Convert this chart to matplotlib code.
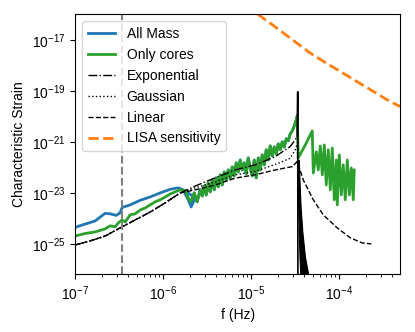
import numpy as np
import matplotlib
matplotlib.use('Agg')
import matplotlib.pyplot as plt
from matplotlib.ticker import NullLocator

plt.rcParams['font.family'] = ['Liberation Sans', 'DejaVu Sans']
plt.rcParams['mathtext.fontset'] = 'custom'
plt.rcParams['mathtext.rm'] = 'Liberation Sans'
plt.rcParams['mathtext.it'] = 'Liberation Sans:italic'
plt.rcParams['font.size'] = 10

# ---- data (log10 of frequency / strain) ----
# All Mass, low-frequency part (above cores)
allmass_lf = [-7.000, -6.886, -6.773, -6.659, -6.602, -6.534, -6.489, -6.466, -6.375,
              -6.261, -6.148, -6.034, -5.920, -5.830, -5.773, -5.716, -5.682, -5.636]
allmass_lh = [-24.35, -24.22, -24.10, -23.80, -23.82, -23.88, -23.78, -23.57, -23.47,
              -23.29, -23.16, -23.00, -22.86, -22.80, -22.88, -23.27, -23.55, -23.20]

# Only cores, low-frequency part
cores_lf = [-7.000, -6.886, -6.773, -6.659, -6.602, -6.545, -6.511, -6.466, -6.432, -6.375,
            -6.318, -6.261, -6.205, -6.148, -6.091, -6.034, -5.977, -5.920, -5.864, -5.807]
cores_lh = [-24.69, -24.59, -24.53, -24.41, -24.29, -24.33, -24.18, -24.06, -24.14, -23.86,
            -23.82, -23.67, -23.59, -23.47, -23.35, -23.27, -23.16, -23.04, -22.96, -22.88]

# noisy middle part, shared by both (All Mass hidden under cores)
mid_lf = [-5.750, -5.716, -5.682, -5.648, -5.614,
          -5.580, -5.557, -5.534, -5.511, -5.489, -5.466, -5.443, -5.420, -5.398, -5.375,
          -5.352, -5.330, -5.307, -5.284, -5.261, -5.239, -5.216, -5.193, -5.170, -5.148,
          -5.125, -5.102, -5.080, -5.057, -5.034, -5.011, -4.989, -4.966, -4.943, -4.920,
          -4.898, -4.875, -4.852, -4.830, -4.807, -4.784, -4.761, -4.739, -4.716, -4.693,
          -4.670, -4.648, -4.625, -4.602, -4.580, -4.557, -4.534, -4.511, -4.489, -4.477]
mid_lh = [-22.92, -23.20, -23.35, -23.00, -23.35,
          -22.88, -23.12, -22.73, -23.08, -22.61, -22.96, -22.49, -22.88, -22.41, -22.76,
          -22.29, -22.69, -22.18, -22.49, -22.10, -22.45, -21.98, -22.33, -21.82, -22.18,
          -21.71, -22.10, -21.82, -22.25, -21.63, -22.02, -22.33, -21.71, -22.41, -21.63,
          -22.10, -21.51, -21.90, -21.31, -21.71, -21.16, -21.55, -21.20, -21.47, -21.08,
          -21.31, -21.00, -21.20, -20.88, -20.96, -20.69, -20.57, -20.37, -20.14, -19.98]

# cores after the cutoff
tail_lf = [-4.466, -4.386, -4.307, -4.295, -4.261, -4.239, -4.216, -4.193, -4.170, -4.148,
           -4.125, -4.102, -4.080, -4.057, -4.034, -4.023, -4.000, -3.977, -3.955, -3.932,
           -3.909, -3.886, -3.864, -3.841, -3.830]
tail_lh = [-21.63, -21.12, -20.57, -22.22, -21.39, -22.10, -21.16, -22.29, -21.12, -22.69,
           -21.31, -22.88, -21.24, -23.27, -21.71, -23.47, -21.51, -23.08, -21.90, -23.27,
           -21.71, -23.08, -22.02, -23.27, -22.10]

# analytic models: common low-frequency part
model_lf = [-7.000, -6.830, -6.659, -6.489, -6.318, -6.148, -5.977, -5.807]
model_lh = [-25.04, -24.88, -24.69, -24.37, -24.06, -23.75, -23.39, -23.00]

expo_lf = [-5.636, -5.409, -5.182, -4.955, -4.727, -4.557, -4.500, -4.477]
expo_lh = [-22.73, -22.41, -22.10, -21.90, -21.58, -21.18, -20.92, -20.79]
gauss_lf = [-5.636, -5.409, -5.182, -4.955, -4.693, -4.557, -4.500, -4.477]
gauss_lh = [-22.80, -22.57, -22.29, -22.16, -21.84, -21.64, -21.31, -21.04]
linear_lf = [-5.636, -5.409, -5.182, -4.955, -4.727, -4.534, -4.477, -4.409, -4.352,
             -4.295, -4.182, -4.023, -3.875, -3.739, -3.636]
linear_lh = [-22.88, -22.69, -22.42, -22.29, -22.10, -21.97, -21.77, -22.49, -22.88,
             -23.27, -23.86, -24.37, -24.76, -24.96, -25.00]

# cutoff spike and the steep oscillating fall-off envelope
spike_lf = [-4.477, -4.472, -4.470]
spike_lh = [-20.79, -19.04, -27.00]
fall_lh = [-21.70, -22.50, -23.50, -24.50, -25.50, -26.20, -27.00]
fall_lf_lo = [-4.477, -4.472, -4.466, -4.460, -4.452, -4.443, -4.436]
fall_lf_hi = [-4.460, -4.452, -4.440, -4.420, -4.390, -4.352, -4.320]

# LISA sensitivity
lisa_lf = [-5.050, -4.917, -4.784, -4.633, -4.481, -4.330, -4.178, -3.989, -3.799,
           -3.610, -3.458, -3.307]
lisa_lh = [-15.60, -16.02, -16.35, -16.74, -17.13, -17.52, -17.85, -18.24, -18.64,
           -19.03, -19.35, -19.62]

f_marker = 3.4e-7


def p(a):
    return 10.0 ** np.asarray(a)


fig = plt.figure(figsize=(4.15, 3.32), dpi=100)
ax = fig.add_axes([0.181, 0.174, 0.783, 0.783])

ax.plot(p(allmass_lf + mid_lf), p(allmass_lh + mid_lh), color='#1f77b4', lw=2, label='All Mass')
ax.plot(p(cores_lf + mid_lf + tail_lf), p(cores_lh + mid_lh + tail_lh), color='#2ca02c', lw=2,
        label='Only cores')

ax.plot(p(model_lf + expo_lf), p(model_lh + expo_lh), color='k', lw=1, ls='-.', label='Exponential')
ax.plot(p(model_lf + gauss_lf), p(model_lh + gauss_lh), color='k', lw=1, ls=':', label='Gaussian')
ax.plot(p(model_lf + linear_lf), p(model_lh + linear_lh), color='k', lw=1, ls='--', label='Linear')
ax.plot(p(spike_lf), p(spike_lh), color='k', lw=1.2)
ax.fill_betweenx(p(fall_lh), p(fall_lf_lo), p(fall_lf_hi), color='k', lw=0.8)

ax.plot(p(lisa_lf), p(lisa_lh), color='#ff7f0e', lw=2, ls='--', label='LISA sensitivity')
ax.axvline(f_marker, color='gray', lw=1.5, ls='--')

ax.set_xscale('log')
ax.set_yscale('log')
ax.set_xlim(1e-7, 4.9e-4)
ax.set_ylim(6.5e-27, 1e-16)
ax.set_yticks([1e-25, 1e-23, 1e-21, 1e-19, 1e-17])
ax.yaxis.set_minor_locator(NullLocator())
ax.set_xlabel('f (Hz)')
ax.set_ylabel('Characteristic Strain')
ax.legend(loc='upper left')

fig.savefig('out.png', dpi=100)
